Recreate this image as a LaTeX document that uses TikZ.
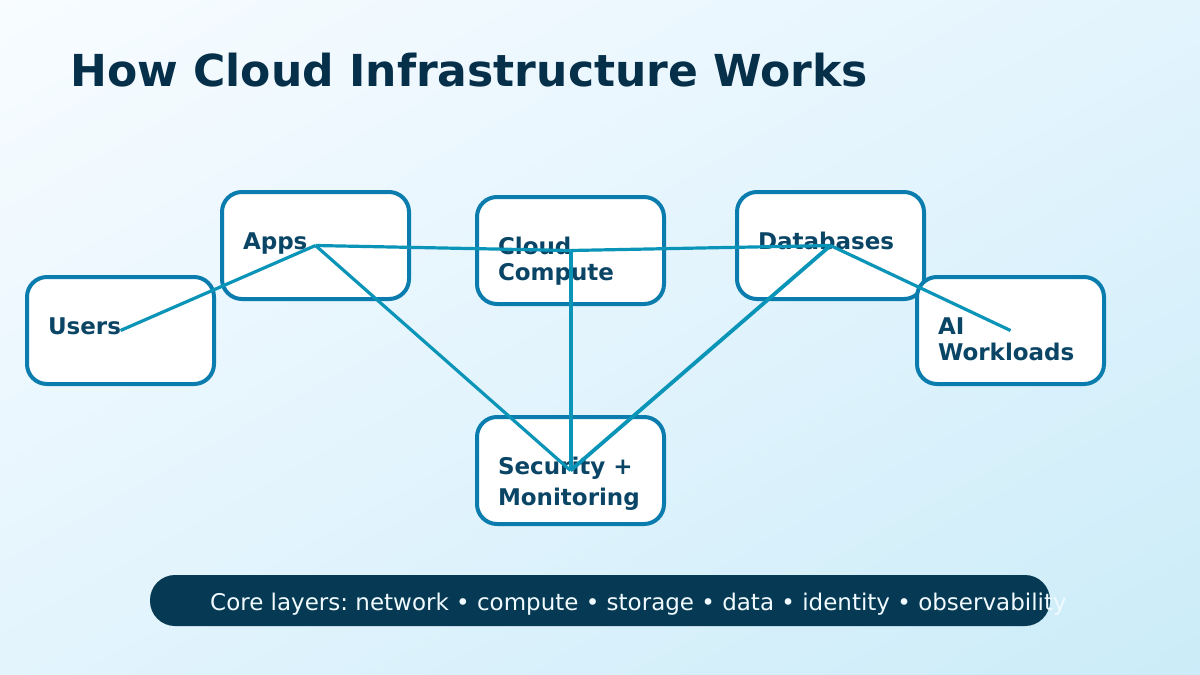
\documentclass[tikz,border=0pt]{standalone}
\usepackage{fontspec}
\setmainfont{DejaVu Sans}
\frenchspacing
\definecolor{bgA}{HTML}{F8FCFF}
\definecolor{bgB}{HTML}{E3F4FD}
\definecolor{bgC}{HTML}{CBECF8}
\definecolor{boxline}{HTML}{0A7CAE}
\definecolor{linkc}{HTML}{0A94B8}
\definecolor{labelc}{HTML}{0B4566}
\definecolor{titlec}{HTML}{062F4A}
\definecolor{pillc}{HTML}{063A54}
\definecolor{pilltext}{HTML}{F0FAFF}
\pgfdeclarehorizontalshading{pagebg}{100bp}{color(0bp)=(bgA); color(50bp)=(bgB); color(100bp)=(bgC)}
\tikzset{
  cardbox/.style={draw=boxline,fill=white,line width=4pt,rounded corners=20pt,minimum width=187pt,minimum height=107pt,inner sep=0pt,outer sep=0pt},
  cardlabel/.style={anchor=base west,inner sep=0pt,outer sep=0pt,text=labelc,align=left,font=\fontsize{23}{26}\selectfont\bfseries},
  linkline/.style={draw=linkc,line width=3.2pt},
  linkheavy/.style={draw=linkc,line width=3.8pt}
}
\begin{document}
\begin{tikzpicture}[x=1pt,y=-1pt]
\useasboundingbox (0,0) rectangle (1200,675);
\begin{scope}
\clip (0,0) rectangle (1200,675);
\begin{scope}[shift={(600,337.5)},rotate=-60.64,xscale=11.722,yscale=20]
\pgflowlevelsynccm
\pgfuseshading{pagebg}
\end{scope}
\end{scope}
\node[anchor=base west,inner sep=0pt,text=titlec,font=\fontsize{44.05}{50}\selectfont\bfseries] (title) at (70,86) {How Cloud Infrastructure Works};
\node[cardbox] (users) at (120.5,330.5) {};
\node[cardbox] (apps) at (315.5,245.5) {};
\node[cardbox] (cloud) at (570.5,250.5) {};
\node[cardbox] (db) at (830.5,245.5) {};
\node[cardbox] (ai) at (1010.5,330.5) {};
\node[cardbox] (sec) at (570.5,470.5) {};
\node[cardlabel] (usersl) at (48,334) {Users};
\node[cardlabel] (appsl) at (243,249) {Apps};
\node[cardlabel] (cloudl) at (498,280) {Cloud\\Compute};
\node[cardlabel] (dbl) at (758,249) {Databases};
\node[cardlabel] (ail) at (938,360) {AI\\Workloads};
\node[cardlabel,font=\fontsize{23}{31}\selectfont\bfseries] (secl) at (498,505) {Security +\\Monitoring};
\draw[linkline] (users.center) -- (apps.center);
\draw[linkline] (apps.center) -- (cloud.center);
\draw[linkline] (cloud.center) -- (db.center);
\draw[linkline] (db.center) -- (ai.center);
\draw[linkline] (apps.center) -- (sec.center);
\draw[linkheavy] ([xshift=0.5pt]cloud.center) -- ([xshift=0.5pt]sec.center);
\draw[linkheavy] (db.center) -- (sec.center);
\node[fill=pillc,rounded corners=25pt,minimum width=900pt,minimum height=51pt,inner sep=0pt,outer sep=0pt] (pill) at (600,600.5) {};
\node[anchor=base west,inner sep=0pt,text=pilltext,font=\fontsize{23}{28}\selectfont] (pillt) at (210,610) {Core layers: network • compute • storage • data • identity • observability};
\end{tikzpicture}
\end{document}
